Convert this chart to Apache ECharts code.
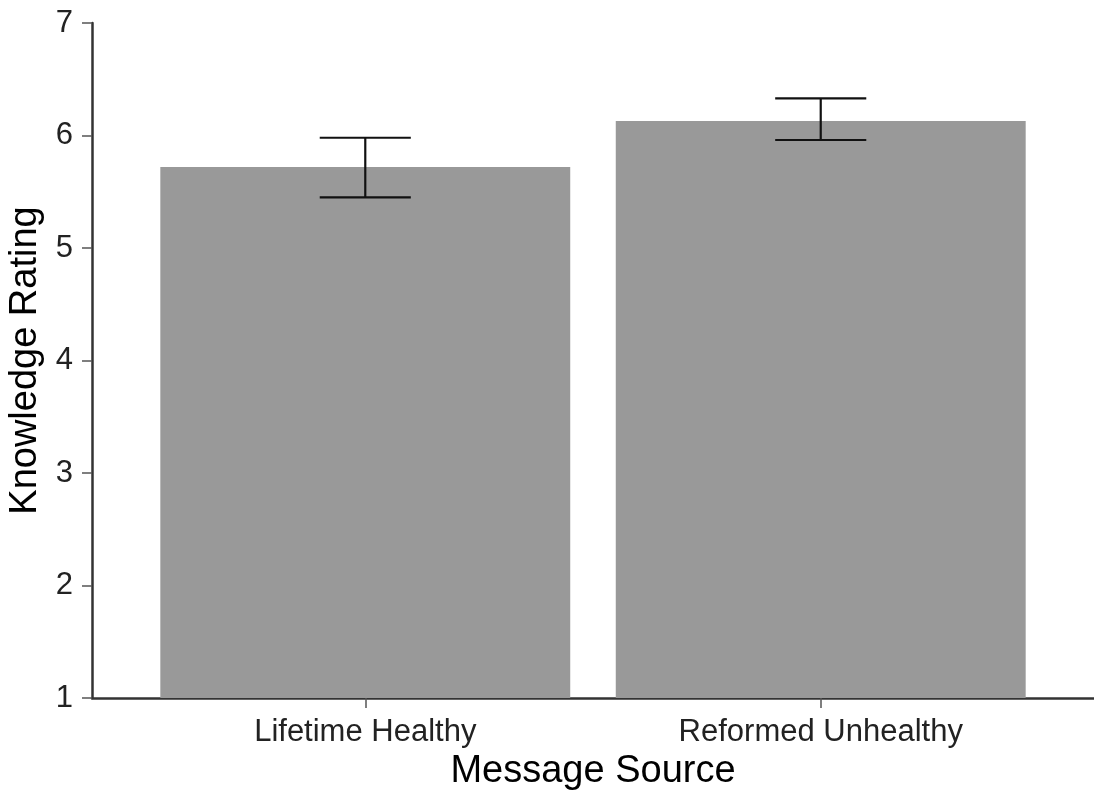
<!DOCTYPE html>
<html>
<head>
<meta charset="utf-8">
<script src="https://cdn.jsdelivr.net/npm/echarts@6/dist/echarts.min.js"></script>
<style>
  html, body { margin: 0; padding: 0; background: #ffffff; }
  #chart { width: 1094px; height: 792px; }
</style>
</head>
<body>
<div id="chart"></div>
<script>
// Knowledge rating by message source (mean with error bars)
const categories = ['Lifetime Healthy', 'Reformed Unhealthy'];
const means = [5.72, 6.13];
const errLow = [5.45, 5.96];
const errHigh = [5.98, 6.33];
const yTicks = [1, 2, 3, 4, 5, 6, 7];

const FONT = "'Liberation Sans', Arial, Helvetica, sans-serif";
const positions = categories.map((_, i) => i + 1);

const barData = positions.map((x, i) => [x, means[i]]);
const errData = positions.map((x, i) => [x, errLow[i], errHigh[i]]);

const chart = echarts.init(document.getElementById('chart'), null, { renderer: 'canvas' });

chart.setOption({
  backgroundColor: '#ffffff',
  animation: false,
  grid: { left: 92, right: 0, top: 23, bottom: 94, containLabel: false, outerBoundsMode: 'none' },
  xAxis: {
    type: 'value',
    min: 0.4,
    max: 2.6,
    name: 'Message Source',
    nameLocation: 'middle',
    nameGap: 53,
    nameTextStyle: { fontFamily: FONT, fontSize: 38, color: '#000000' },
    splitLine: { show: false },
    axisLine: { show: true, lineStyle: { color: '#333333', width: 2.5 } },
    axisTick: { show: true, customValues: positions, length: 10, lineStyle: { color: '#555555', width: 1.5 } },
    axisLabel: {
      customValues: positions,
      formatter: v => categories[Math.round(v) - 1] || '',
      fontFamily: FONT, fontSize: 31, color: '#222222', margin: 19
    }
  },
  yAxis: {
    type: 'value',
    min: yTicks[0],
    max: yTicks[yTicks.length - 1],
    interval: 1,
    name: 'Knowledge Rating',
    nameLocation: 'middle',
    nameGap: 40,
    nameRotate: 90,
    nameTextStyle: { fontFamily: FONT, fontSize: 38, color: '#000000' },
    splitLine: { show: false },
    axisLine: { show: true, lineStyle: { color: '#333333', width: 2.5 } },
    axisTick: { show: true, length: 10, lineStyle: { color: '#555555', width: 1.5 } },
    axisLabel: { fontFamily: FONT, fontSize: 31, color: '#222222', margin: 19 }
  },
  series: [
    {
      type: 'custom',
      name: 'mean',
      data: barData,
      z: 2,
      renderItem: function (params, api) {
        const x = api.value(0);
        const top = api.coord([x, api.value(1)]);
        const base = api.coord([x, 1]);
        const w = api.size([0.9, 0])[0];
        return {
          type: 'rect',
          shape: { x: top[0] - w / 2, y: top[1], width: w, height: base[1] - top[1] },
          style: { fill: '#999999' }
        };
      }
    },
    {
      type: 'custom',
      name: 'error',
      data: errData,
      z: 3,
      renderItem: function (params, api) {
        const x = api.value(0);
        const lo = api.coord([x, api.value(1)]);
        const hi = api.coord([x, api.value(2)]);
        const half = api.size([0.2, 0])[0] / 2;
        const style = { stroke: '#111111', lineWidth: 2.2 };
        return {
          type: 'group',
          children: [
            { type: 'line', shape: { x1: lo[0], y1: lo[1], x2: hi[0], y2: hi[1] }, style: style },
            { type: 'line', shape: { x1: hi[0] - half, y1: hi[1], x2: hi[0] + half, y2: hi[1] }, style: style },
            { type: 'line', shape: { x1: lo[0] - half, y1: lo[1], x2: lo[0] + half, y2: lo[1] }, style: style }
          ]
        };
      }
    }
  ]
});
</script>
</body>
</html>
